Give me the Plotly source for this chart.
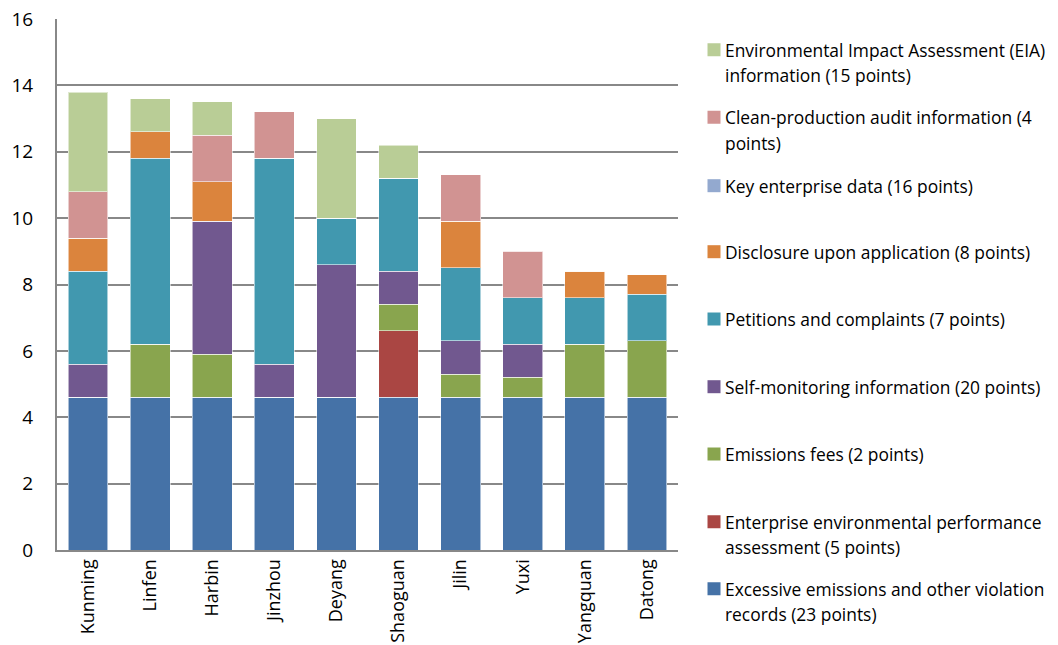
import plotly.graph_objects as go

# Cities ranked by total disclosure score
cities = ["Kunming", "Linfen", "Harbin", "Jinzhou", "Deyang",
          "Shaoguan", "Jilin", "Yuxi", "Yangquan", "Datong"]

# Score components (stacked bottom to top)
violation_records = [4.6, 4.6, 4.6, 4.6, 4.6, 4.6, 4.6, 4.6, 4.6, 4.6]
performance_assessment = [0, 0, 0, 0, 0, 2.0, 0, 0, 0, 0]
emissions_fees = [0, 1.6, 1.3, 0, 0, 0.8, 0.7, 0.6, 1.6, 1.7]
self_monitoring = [1.0, 0, 4.0, 1.0, 4.0, 1.0, 1.0, 1.0, 0, 0]
petitions = [2.8, 5.6, 0, 6.2, 1.4, 2.8, 2.2, 1.4, 1.4, 1.4]
disclosure_application = [1.0, 0.8, 1.2, 0, 0, 0, 1.4, 0, 0.8, 0.6]
key_enterprise = [0, 0, 0, 0, 0, 0, 0, 0, 0, 0]
clean_production = [1.4, 0, 1.4, 1.4, 0, 0, 1.4, 1.4, 0, 0]
eia_information = [3.0, 1.0, 1.0, 0, 3.0, 1.0, 0, 0, 0, 0]

y_ticks = [0, 2, 4, 6, 8, 10, 12, 14, 16]

series = [
    ("Excessive emissions and other violation<br>records (23 points)", violation_records, "#4572A7"),
    ("Enterprise environmental performance<br>assessment (5 points)", performance_assessment, "#AA4643"),
    ("Emissions fees (2 points)", emissions_fees, "#89A54E"),
    ("Self-monitoring information (20 points)", self_monitoring, "#71588F"),
    ("Petitions and complaints (7 points)", petitions, "#4198AF"),
    ("Disclosure upon application (8 points)", disclosure_application, "#DB843D"),
    ("Key enterprise data (16 points)", key_enterprise, "#93A9CF"),
    ("Clean-production audit information (4<br>points)", clean_production, "#D19392"),
    ("Environmental Impact Assessment (EIA)<br>information (15 points)", eia_information, "#B9CD96"),
]

FONT = "'Open Sans', sans-serif"
W, H = 1058, 645
L, R, T, B = 57, 380, 19, 95
plot_w = W - L - R
plot_h = H - T - B

fig = go.Figure()
for name, vals, color in series:
    fig.add_trace(go.Bar(
        x=cities, y=vals, name=name, showlegend=False,
        marker=dict(color=color, line=dict(color="rgba(255,255,255,0.55)", width=1)),
    ))

# Hand-placed legend on the right, top item = last series
legend_centers = [601.5, 534.5, 454, 386.7, 319, 251.7, 185.7, 130, 62.5]
LINE_GAP = 25.5


def px_x(px):
    return (px - L) / plot_w


def px_y(py):
    return (H - B - py) / plot_h


shapes = []
annotations = []
for (name, vals, color), cy in zip(series, legend_centers):
    lines = name.split("<br>")
    first_y = cy - (len(lines) - 1) * LINE_GAP / 2
    shapes.append(dict(
        type="rect", xref="paper", yref="paper",
        x0=px_x(707.5), x1=px_x(720.5), y0=px_y(first_y + 6.5), y1=px_y(first_y - 6.5),
        fillcolor=color, line=dict(width=0),
    ))
    for i, line in enumerate(lines):
        annotations.append(dict(
            xref="paper", yref="paper", x=px_x(723), y=px_y(first_y + i * LINE_GAP),
            xanchor="left", yanchor="middle", text=line, showarrow=False,
            font=dict(family=FONT, size=17.4, color="#000000"),
        ))

fig.update_layout(
    barmode="stack",
    bargap=0.36,
    width=W, height=H,
    margin=dict(l=L, r=R, t=T, b=B, pad=0, autoexpand=False),
    paper_bgcolor="white",
    plot_bgcolor="white",
    font=dict(family=FONT, size=18, color="#000000"),
    shapes=shapes,
    annotations=annotations,
    xaxis=dict(
        tickangle=-90, tickfont=dict(size=18),
        showline=True, linecolor="#888888", linewidth=2,
        ticks="", showgrid=False, automargin=False,
    ),
    yaxis=dict(
        range=[0, 16], tickvals=y_ticks,
        showline=True, linecolor="#888888", linewidth=2,
        showgrid=True, gridcolor="#888888", gridwidth=2,
        ticks="", zeroline=False, ticklabelstandoff=18,
        tickfont=dict(size=19), automargin=False,
    ),
)

fig.write_html("out.html")
